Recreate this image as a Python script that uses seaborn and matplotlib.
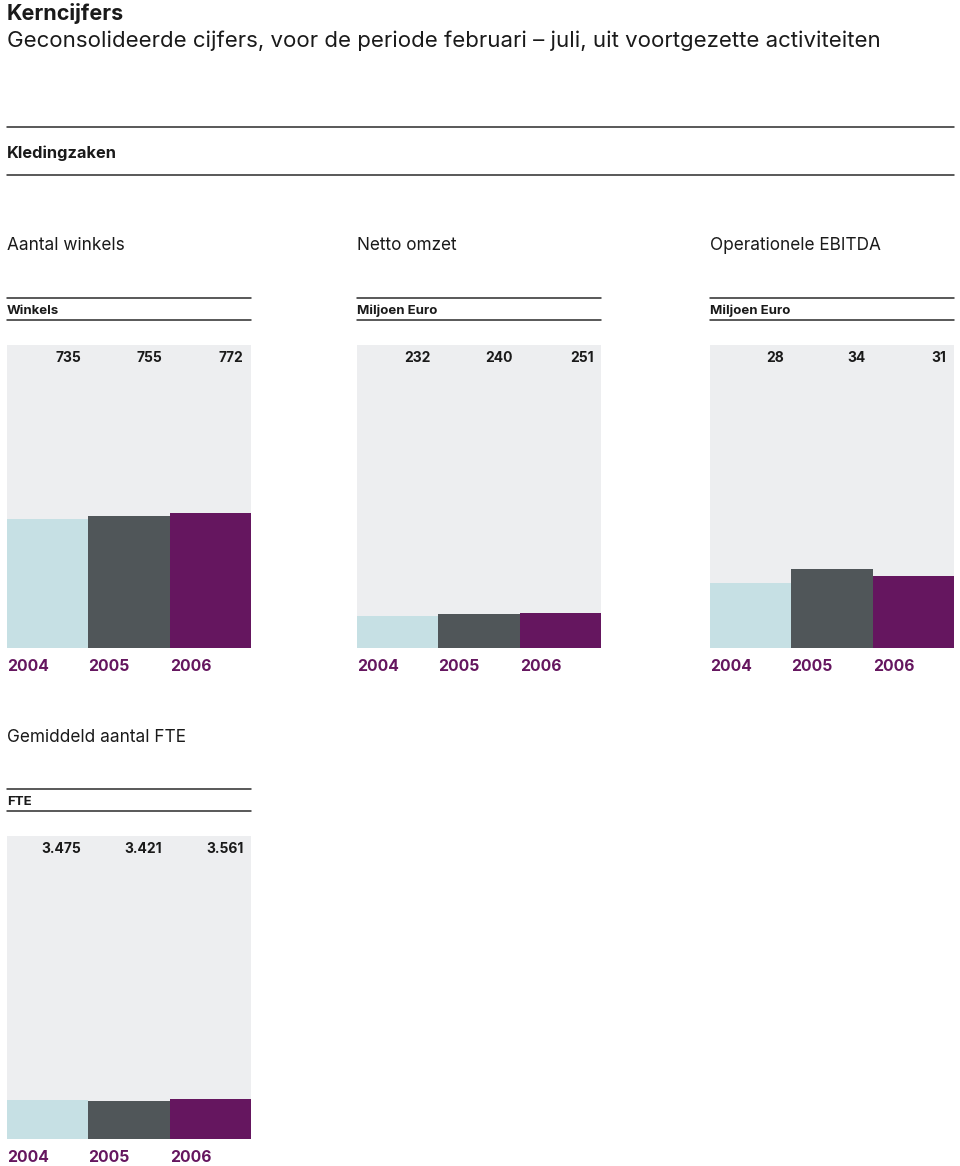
import pandas as pd
import matplotlib.pyplot as plt
import seaborn as sns

years = ["2004", "2005", "2006"]
winkels = [735, 755, 772]
omzet = [232, 240, 251]
ebitda = [28, 34, 31]
fte = [3475, 3421, 3561]
fte_labels = ["3.475", "3.421", "3.561"]

colors = ["#c6e0e4", "#505659", "#65165f"]
bg = "#edeef0"
purple = "#65165f"
ink = "#1a1a1a"

sns.set_theme(style="white")
plt.rcParams["font.family"] = ["Inter", "DejaVu Sans"]

W, H = 960, 1166
fig = plt.figure(figsize=(W / 100, H / 100), dpi=100)


def fx(px):
    return px / W


def fy(py):
    return 1 - py / H


def hline(x0, x1, y):
    fig.add_artist(plt.Line2D([fx(x0), fx(x1)], [fy(y), fy(y)], color="#2b2b2b", lw=1.1))


# header
fig.text(fx(7), fy(13), "Kerncijfers", fontsize=15.5, fontweight="bold", color=ink, va="center")
fig.text(fx(7), fy(41), "Geconsolideerde cijfers, voor de periode februari \u2013 juli, uit voortgezette activiteiten",
         fontsize=16, color=ink, va="center")
hline(7, 954, 127)
fig.text(fx(7), fy(153), "Kledingzaken", fontsize=11.8, fontweight="bold", color=ink, va="center")
hline(7, 954, 175)


def panel(x0, top, title, unit, values, labels, ymax):
    x1 = x0 + 244
    fig.text(fx(x0), fy(top - 99), title, fontsize=12.4, color=ink, va="center")
    hline(x0, x1, top - 47)
    fig.text(fx(x0), fy(top - 34), unit, fontsize=9.5, fontweight="bold", color=ink, va="center")
    hline(x0, x1, top - 25)

    ax = fig.add_axes([fx(x0), fy(top + 303), fx(244), 303 / H])
    df = pd.DataFrame({"jaar": years, "waarde": values})
    sns.barplot(data=df, x="jaar", y="waarde", hue="jaar", palette=colors,
                width=1.0, legend=False, ax=ax, saturation=1, linewidth=0)
    ax.set_facecolor(bg)
    ax.set_xlim(-0.5, 2.5)
    ax.set_ylim(0, ymax)
    for s in ax.spines.values():
        s.set_visible(False)
    ax.set_xticks([])
    ax.set_yticks([])
    ax.set_xlabel("")
    ax.set_ylabel("")
    for i, lab in enumerate(labels):
        ax.text(i + 0.41, 0.958, lab, transform=ax.get_xaxis_transform(),
                ha="right", va="center", fontsize=10, fontweight="bold", color=ink)
        ax.text(i - 0.5, -0.062, years[i], transform=ax.get_xaxis_transform(),
                ha="left", va="center", fontsize=11.3, fontweight="bold", color=purple)


panel(7, 345, "Aantal winkels", "Winkels", winkels, [str(v) for v in winkels], 1733)
panel(357, 345, "Netto omzet", "Miljoen Euro", omzet, [str(v) for v in omzet], 2167)
panel(710, 345, "Operationele EBITDA", "Miljoen Euro", ebitda, [str(v) for v in ebitda], 129.6)
panel(7, 836, "Gemiddeld aantal FTE", "FTE", fte, fte_labels, 27000)

fig.savefig("out.png", dpi=100, facecolor="white")
